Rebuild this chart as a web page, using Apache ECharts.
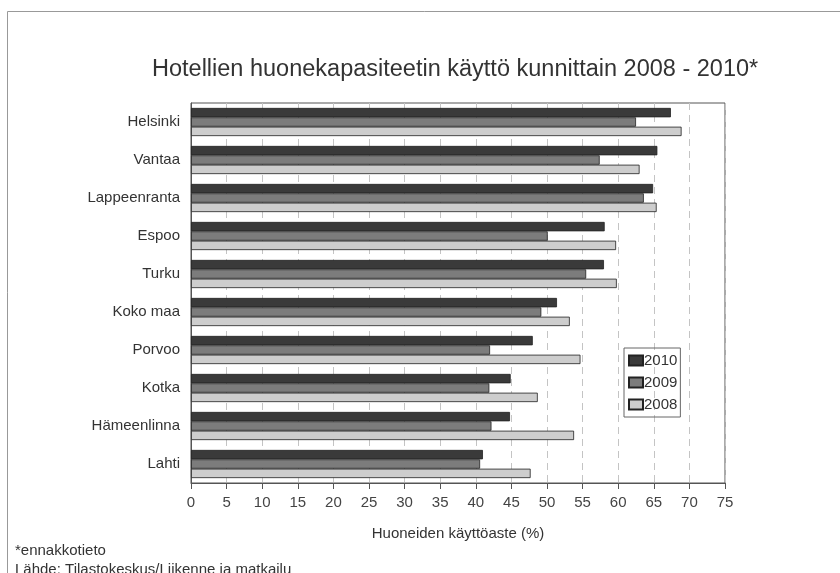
<!DOCTYPE html>
<html>
<head>
<meta charset="utf-8">
<script src="https://cdn.jsdelivr.net/npm/echarts@6/dist/echarts.min.js"></script>
<style>
html,body{margin:0;padding:0;background:#fff;}
#c{width:840px;height:573px;}
</style>
</head>
<body>
<div id="c"></div>
<script>
var categories = ["Helsinki","Vantaa","Lappeenranta","Espoo","Turku","Koko maa","Porvoo","Kotka","Hämeenlinna","Lahti"];
var values2010 = [67.4, 65.5, 64.9, 58.1, 58.0, 51.4, 48.0, 44.9, 44.8, 41.0];
var values2009 = [62.5, 57.4, 63.6, 50.1, 55.5, 49.2, 42.0, 41.9, 42.2, 40.6];
var values2008 = [68.9, 63.0, 65.4, 59.7, 59.8, 53.2, 54.7, 48.7, 53.8, 47.7];
var seriesNames = ["2010","2009","2008"];
var xTicks = {min: 0, max: 75, interval: 5};
var titleText = "Hotellien huonekapasiteetin käyttö kunnittain 2008 - 2010*";
var axisTitle = "Huoneiden käyttöaste (%)";
var footnote1 = "*ennakkotieto";
var footnote2 = "Lähde: Tilastokeskus/Liikenne ja matkailu";

var font = "'Liberation Sans', Arial, sans-serif";
var colors = ["#3a3a3a", "#7c7c7c", "#cdcdcd"];
var chart = echarts.init(document.getElementById('c'), null, {renderer: 'canvas'});
var dataSets = [values2010, values2009, values2008];
var series = seriesNames.map(function (n, i) {
  return {
    name: n,
    type: 'bar',
    data: dataSets[i],
    barGap: '0%',
    barCategoryGap: '26%',
    itemStyle: {color: colors[i], borderColor: '#222', borderWidth: 0.8},
    emphasis: {disabled: true},
    animation: false
  };
});
chart.setOption({
  animation: false,
  textStyle: {fontFamily: font},
  title: {
    text: titleText,
    left: 147, top: 53,
    textStyle: {fontFamily: font, fontSize: 23.5, fontWeight: 'normal', color: '#333'}
  },
  legend: {
    data: seriesNames,
    orient: 'vertical',
    left: 624, top: 348,
    icon: 'rect',
    itemWidth: 14, itemHeight: 10, itemGap: 7,
    padding: [5, 3, 5, 4],
    borderColor: '#666', borderWidth: 1,
    textStyle: {fontFamily: font, fontSize: 15, color: '#333', padding: [0, 0, 0, -4]},
    selectedMode: false
  },
  grid: {
    left: 191, right: 115, top: 103, bottom: 90,
    show: true, borderColor: '#555', borderWidth: 1
  },
  xAxis: {
    type: 'value',
    min: xTicks.min, max: xTicks.max, interval: xTicks.interval,
    name: axisTitle, nameLocation: 'middle', nameGap: 43,
    nameTextStyle: {fontFamily: font, fontSize: 15, color: '#333'},
    axisLine: {show: true, lineStyle: {color: '#555'}},
    axisTick: {show: true, length: 6, lineStyle: {color: '#555'}},
    axisLabel: {fontFamily: font, fontSize: 15, color: '#444', margin: 12},
    splitLine: {show: true, lineStyle: {color: '#c4c4c4', type: [7, 5], width: 1}}
  },
  yAxis: {
    type: 'category',
    data: categories,
    inverse: true,
    axisLine: {show: true, lineStyle: {color: '#555'}},
    axisTick: {show: false},
    axisLabel: {fontFamily: font, fontSize: 15, color: '#333', margin: 11},
    splitLine: {show: false}
  },
  graphic: [
    {type: 'rect', left: 5, top: 9, shape: {width: 900, height: 700}, style: {fill: 'none', stroke: '#999', lineWidth: 1}, z: -1},
    {type: 'text', left: 15, top: 543, style: {text: footnote1, font: '15px ' + font, fill: '#333'}},
    {type: 'text', left: 15, top: 562, style: {text: footnote2, font: '15px ' + font, fill: '#333'}}
  ],
  series: series
});
</script>
</body>
</html>
